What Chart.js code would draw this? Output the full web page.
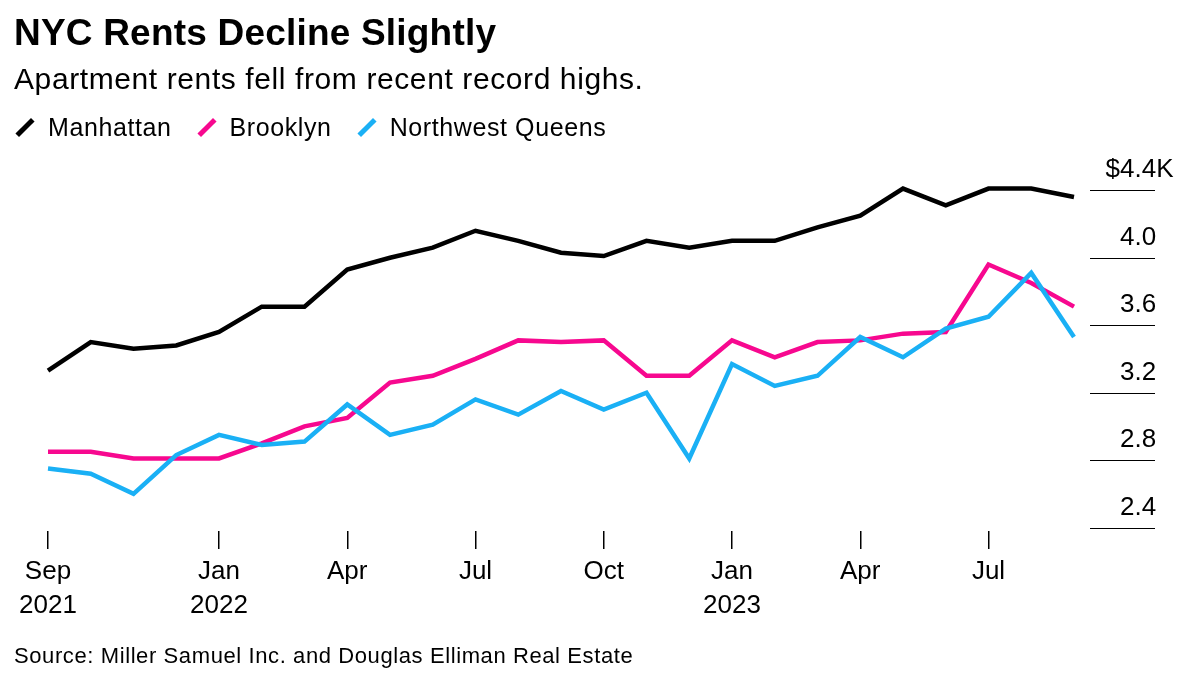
<!DOCTYPE html>
<html><head><meta charset="utf-8">
<script src="https://cdn.jsdelivr.net/npm/chart.js@4"></script>
<style>
body{margin:0;width:1200px;height:686px;overflow:hidden;background:#fff;font-family:"Liberation Sans",Arial,sans-serif;position:relative}
#t{position:absolute;left:14px;top:12px;font-size:37px;font-weight:bold;letter-spacing:0.2px}
#s{position:absolute;left:14px;top:62px;font-size:30px;letter-spacing:0.6px}
#l{position:absolute;left:14px;top:113px;font-size:25px;letter-spacing:0.6px;display:flex;gap:24px}
#l span{display:flex;align-items:center}
#l i{display:inline-block;width:22px;height:5px;transform:rotate(-45deg);margin-right:12px}
#src{position:absolute;left:14px;top:643px;font-size:22px;letter-spacing:0.6px}
canvas{position:absolute;left:0;top:0}
</style></head><body>
<canvas id="c" width="1200" height="686"></canvas>
<div id="t">NYC Rents Decline Slightly</div>
<div id="s">Apartment rents fell from recent record highs.</div>
<div id="l"><span><i style="background:#000"></i>Manhattan</span><span><i style="background:#f7088f"></i>Brooklyn</span><span><i style="background:#1ab0f5"></i>Northwest Queens</span></div>
<div id="src">Source: Miller Samuel Inc. and Douglas Elliman Real Estate</div>
<script>
const months=["Sep 2021","Oct 2021","Nov 2021","Dec 2021","Jan 2022","Feb 2022","Mar 2022","Apr 2022","May 2022","Jun 2022","Jul 2022","Aug 2022","Sep 2022","Oct 2022","Nov 2022","Dec 2022","Jan 2023","Feb 2023","Mar 2023","Apr 2023","May 2023","Jun 2023","Jul 2023","Aug 2023","Sep 2023"];
const tickLabels={0:["Sep","2021"],4:["Jan","2022"],7:["Apr"],10:["Jul"],13:["Oct"],16:["Jan","2023"],19:["Apr"],22:["Jul"]};
const manhattan=[3.33,3.50,3.46,3.48,3.56,3.71,3.71,3.93,4.00,4.06,4.16,4.10,4.03,4.01,4.10,4.06,4.10,4.10,4.18,4.25,4.41,4.31,4.41,4.41,4.36];
const brooklyn=[2.85,2.85,2.81,2.81,2.81,2.90,3.00,3.05,3.26,3.30,3.40,3.51,3.50,3.51,3.30,3.30,3.51,3.41,3.50,3.51,3.55,3.56,3.96,3.85,3.71];
const queens=[2.75,2.72,2.60,2.83,2.95,2.89,2.91,3.13,2.95,3.01,3.16,3.07,3.21,3.10,3.20,2.81,3.37,3.24,3.30,3.53,3.41,3.58,3.65,3.91,3.53];
const yTicks=[4.4,4.0,3.6,3.2,2.8,2.4];
const yLabel=v=>v===4.4?"4.4K":v.toFixed(1);
const yAxisPlugin={id:'ya',afterDraw(ch){const c=ch.ctx,y=ch.scales.y;c.save();c.font='26px "Liberation Sans",Arial,sans-serif';c.fillStyle='#000';c.strokeStyle='#000';c.lineWidth=1.2;
yTicks.forEach(v=>{const p=Math.round(y.getPixelForValue(v))+0.5;c.beginPath();c.moveTo(1090,p);c.lineTo(1155,p);c.stroke();c.textBaseline='alphabetic';c.textAlign='left';c.fillText(yLabel(v),1120,p-14);if(v===4.4){c.textAlign='right';c.fillText('$',1120,p-14);}});c.restore();}};
const ds=(d,col)=>({data:d,borderColor:col,borderWidth:4.5,pointRadius:0,tension:0,fill:false,borderJoinStyle:'miter'});
new Chart(document.getElementById('c'),{type:'line',
data:{labels:months,datasets:[ds(queens,'#1ab0f5'),ds(brooklyn,'#f7088f'),ds(manhattan,'#000')]},
options:{responsive:false,animation:false,layout:{padding:{left:48,right:126,top:170,bottom:0}},
plugins:{legend:{display:false},tooltip:{enabled:false}},
scales:{y:{display:false,min:2.38,max:4.52},
x:{offset:false,afterFit(s){s.height=155;},border:{display:false},
grid:{drawOnChartArea:false,tickLength:18,color:c=>tickLabels[c.index]?'#000':'rgba(0,0,0,0)',lineWidth:1.5},
ticks:{autoSkip:false,maxRotation:0,padding:6,color:'#000',font:{size:26,family:'"Liberation Sans",Arial,sans-serif',lineHeight:1.3},callback:(v,i)=>tickLabels[i]||''}}}},
plugins:[yAxisPlugin]});
</script></body></html>
